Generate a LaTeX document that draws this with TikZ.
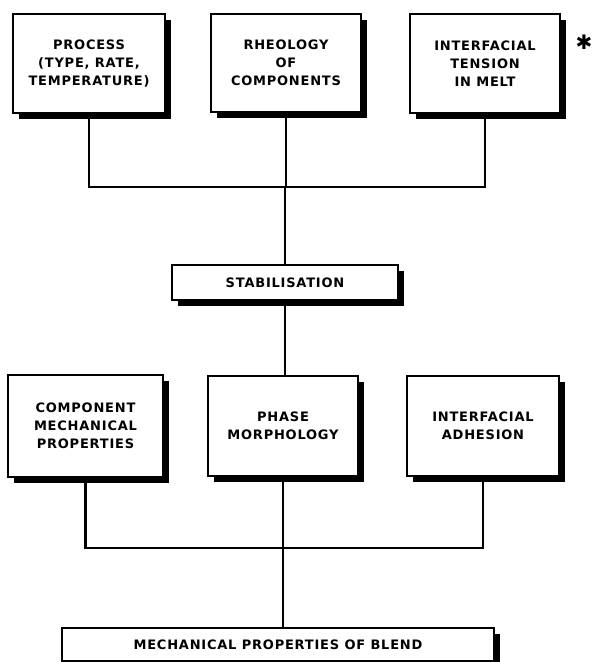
\documentclass[tikz,border=0pt]{standalone}
\usepackage{fontspec}
\setmainfont{DejaVu Sans}
\newfontfamily\boxfont{DejaVu Sans}[LetterSpace=6]
\usetikzlibrary{shadows}
\begin{document}
\begin{tikzpicture}[x=1pt,y=-1pt,
  box/.style={draw, line width=2.5pt, fill=white, align=center, inner sep=0pt,
    font=\boxfont\bfseries\fontsize{13}{18}\selectfont,
    drop shadow={shadow xshift=6pt, shadow yshift=-6pt, opacity=1, fill=black}},
  link/.style={line width=2.3pt}]
\useasboundingbox[fill=white] (0,0) rectangle (592,662);
% top row
\node[box, minimum width=152pt, minimum height=99pt] (p1) at (89,63.5) {PROCESS\\(TYPE, RATE,\\TEMPERATURE)};
\node[box, minimum width=150pt, minimum height=98pt] (p2) at (286,63) {RHEOLOGY\\OF\\COMPONENTS};
\node[box, minimum width=150pt, minimum height=99pt] (p3) at (485,63.5) {INTERFACIAL\\TENSION\\IN MELT};
\node[font=\fontsize{20}{20}\selectfont, inner sep=0pt] (star) at (584,42) {✱};
% stabilisation
\node[box, minimum width=226pt, minimum height=35pt] (stab) at (285,282.5) {STABILISATION};
% middle row
\node[box, minimum width=155pt, minimum height=102pt] (m1) at (85.5,426) {COMPONENT\\MECHANICAL\\PROPERTIES};
\node[box, minimum width=150pt, minimum height=100pt] (m2) at (283,426) {PHASE\\MORPHOLOGY};
\node[box, minimum width=152pt, minimum height=100pt] (m3) at (483,426) {INTERFACIAL\\ADHESION};
% bottom
\node[box, minimum width=432pt, minimum height=33pt] (blend) at (278,644.5) {MECHANICAL PROPERTIES OF BLEND};
% join points
\coordinate (j1) at (285,187);
\coordinate (j2) at (283,548);
% connectors top
\draw[link] (p1.south) |- (j1);
\draw[link] (p3.south) |- (j1);
\draw[link] (p2.south) -- (p2.south |- j1);
\draw[link] (j1) -- (j1 |- stab.north);
\draw[link] (stab.south) -- (stab.south |- m2.north);
% connectors bottom
\draw[link] (m1.south) |- (j2);
\draw[link] (m3.south) |- (j2);
\draw[link] (m2.south) -- (j2);
\draw[link] (j2) -- (j2 |- blend.north);
\end{tikzpicture}
\end{document}
